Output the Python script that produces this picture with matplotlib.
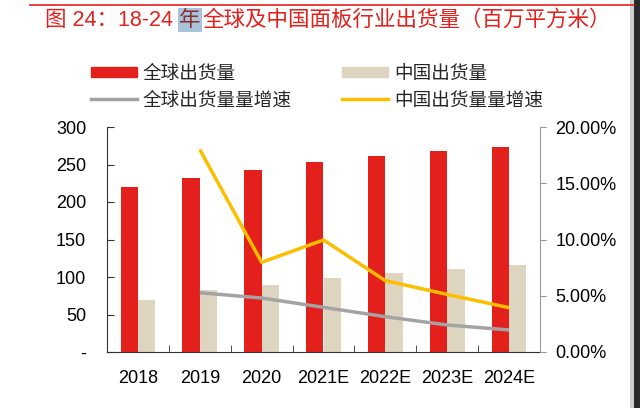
import numpy as np
import matplotlib
matplotlib.use("Agg")
import matplotlib.pyplot as plt
from matplotlib.patches import Patch, Rectangle
from matplotlib.lines import Line2D

plt.rcParams['font.family'] = ['Liberation Sans', 'Noto Sans CJK SC', 'DejaVu Sans']

# 数据
years = ['2018', '2019', '2020', '2021E', '2022E', '2023E', '2024E']
global_ship = [220, 231.5, 243, 253, 261, 267.5, 273]
china_ship = [70, 82.7, 90, 99, 105, 110.7, 115.6]
global_growth = [np.nan, 5.27, 4.8, 3.97, 3.14, 2.4, 1.96]   # %
china_growth = [np.nan, 18.0, 7.97, 9.96, 6.34, 5.12, 3.94]  # %

# 标题分三段（“年”字在原图里被选中高亮）
title_parts = ['图 24：18-24 ', '年', '全球及中国面板行业出货量（百万平方米）']

RED = '#E3201B'
BEIGE = '#DED5C1'
GRAY = '#A3A3A3'
YELLOW = '#FDBE00'

fig = plt.figure(figsize=(6.4, 4.08), dpi=100)
ax = fig.add_axes([107 / 640, 56 / 408, 433 / 640, 225 / 408])
ax2 = ax.twinx()

x = np.arange(len(years))
w = 0.28
ax.bar(x - w / 2, global_ship, w, color=RED, zorder=2)
ax.bar(x + w / 2, china_ship, w, color=BEIGE, zorder=2)

ax2.plot(x, global_growth, color=GRAY, lw=2.5, solid_capstyle='butt')
ax2.plot(x, china_growth, color=YELLOW, lw=2.5, solid_capstyle='butt')

ax.set_xlim(-0.5, len(years) - 0.5)
ax.set_ylim(0, 300)
ax2.set_ylim(0, 20)

ax.set_yticks([0, 50, 100, 150, 200, 250, 300])
ax.set_yticklabels(['-', '50', '100', '150', '200', '250', '300'])
ax2.set_yticks([0, 5, 10, 15, 20])
ax2.set_yticklabels(['%.2f%%' % v for v in [0, 5, 10, 15, 20]])

ax.set_xticks(x)
ax.set_xticklabels(years)
ax.set_xticks(np.arange(0.5, len(years) - 0.5, 1), minor=True)
ax.tick_params(axis='x', which='major', length=0, pad=13, labelsize=13)
ax.tick_params(axis='x', which='minor', direction='in', length=5, color='#333333')
ax.tick_params(axis='y', direction='in', length=5, pad=15, labelsize=13, color='#333333')
ax2.tick_params(axis='y', direction='out', length=4, pad=7, labelsize=13, color='#999999')

for s in ['top', 'right']:
    ax.spines[s].set_visible(False)
for s in ['top', 'left', 'bottom']:
    ax2.spines[s].set_visible(False)
ax.spines['left'].set_color('#333333')
ax.spines['bottom'].set_color('#333333')
ax2.spines['right'].set_color('#999999')

# 图例
handles = [Patch(color=RED), Line2D([], [], color=GRAY, lw=2.5),
           Patch(color=BEIGE), Line2D([], [], color=YELLOW, lw=2.5)]
labels = ['全球出货量', '全球出货量量增速', '中国出货量', '中国出货量量增速']
fig.legend(handles, labels, ncol=2, frameon=False, fontsize=13.4,
           loc='upper left', bbox_to_anchor=(84 / 640, 1 - 58 / 408),
           handlelength=2.45, handleheight=0.5, handletextpad=0.32,
           columnspacing=2.7, labelspacing=0.5, borderaxespad=0,
           labelcolor='#262626')

# 标题
renderer = fig.canvas.get_renderer()
tx = 45
for i, part in enumerate(title_parts):
    kw = dict(color=RED, fontsize=15.5, va='center', ha='left', weight='medium')
    if i == 1:
        kw['color'] = '#8a2f2a'
        kw['bbox'] = dict(boxstyle='square,pad=0.05', fc='#A9C3DC', ec='none')
    t = fig.text(tx / 640, 1 - 20 / 408, part, **kw)
    tx = t.get_window_extent(renderer).x1 + (2 if i == 1 else 0)
fig.add_artist(Line2D([30 / 640, 634 / 640], [1 - 4.5 / 408, 1 - 4.5 / 408],
                      color=RED, lw=1.2))

# 右侧边框
fig.add_artist(Rectangle((630 / 640, 0), 4 / 640, 1, transform=fig.transFigure,
                         color='#d0d0d0', lw=0))
fig.add_artist(Rectangle((634 / 640, 0), 6 / 640, 1, transform=fig.transFigure,
                         color='#2a2a2a', lw=0))

fig.savefig('out.png', dpi=100)
